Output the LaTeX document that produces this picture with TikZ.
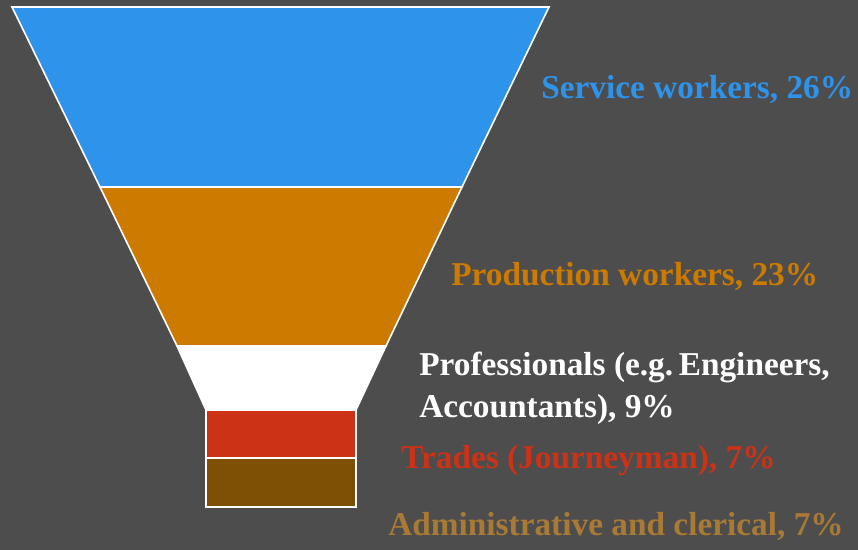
\documentclass[tikz,border=0pt]{standalone}
\usepackage{fontspec}
\setmainfont{Liberation Serif}
\definecolor{bg}{HTML}{4D4D4D}
\definecolor{cblue}{HTML}{2E93EA}
\definecolor{corange}{HTML}{CC7A00}
\definecolor{cred}{HTML}{CB3216}
\definecolor{cbrown}{HTML}{7E5006}
\definecolor{cadmin}{HTML}{A87A35}
\begin{document}
\begin{tikzpicture}[x=0.75pt,y=-0.75pt,
  seg/.style={draw=white,line width=1.2pt,line join=miter},
  lab/.style={font=\bfseries\fontsize{25}{31.5}\selectfont,inner sep=0pt,anchor=west,align=left}]
\fill[bg] (0,0) rectangle (858,550);
\useasboundingbox (0,0) rectangle (858,550);
\draw[seg,fill=cblue] (12,7) -- (549,7) -- (462,187) -- (100,187) -- cycle;
\draw[seg,fill=corange] (100,187) -- (462,187) -- (386,346) -- (177,346) -- cycle;
\draw[seg,fill=white] (177,346) -- (386,346) -- (356,410) -- (206,410) -- cycle;
\draw[seg,fill=cred] (206,410) rectangle (356,458);
\draw[seg,fill=cbrown] (206,458) rectangle (356,507);
\node[lab,text=cblue] (l1) at (541,90) {Service workers, 26\%};
\node[lab,text=corange] (l2) at (451,277) {Production workers, 23\%};
\node[lab,text=white] (l3) at (419,388) {Professionals (e.g.\,Engineers,\\Accountants), 9\%};
\node[lab,text=cred] (l4) at (401,461) {Trades (Journeyman), 7\%};
\node[lab,text=cadmin] (l5) at (388,527) {Administrative and clerical, 7\%};
\end{tikzpicture}
\end{document}
